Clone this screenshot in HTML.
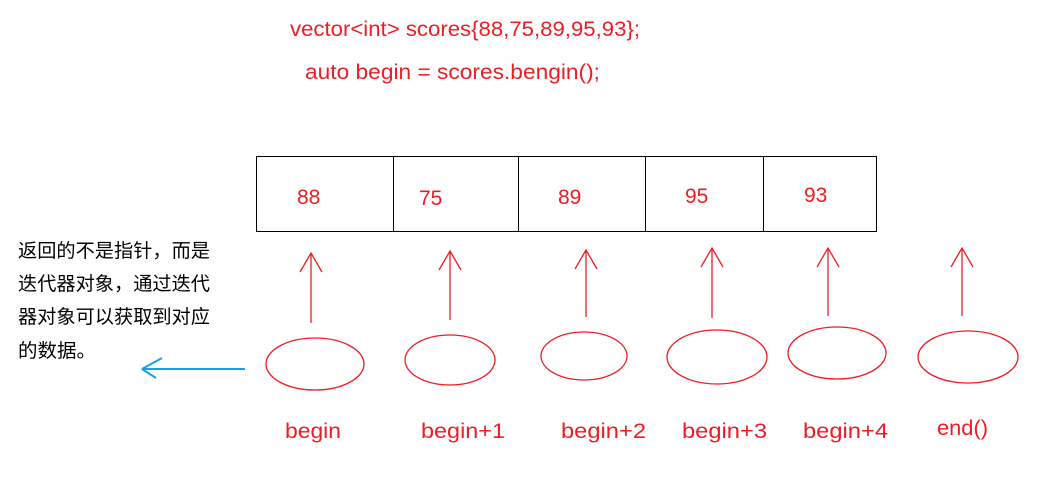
<!DOCTYPE html>
<html><head><meta charset="utf-8"><style>
body{margin:0;background:#fff;width:1047px;height:495px;overflow:hidden}
svg{display:block}
.r{fill:#f01c24;font-family:"Liberation Sans","Noto Sans CJK SC",sans-serif;font-size:21px}
.c{fill:#000;font-family:"Liberation Sans","Noto Sans CJK SC",sans-serif;font-size:19px}
</style></head><body>
<svg width="1047" height="495" xmlns="http://www.w3.org/2000/svg">
<text class="r" x="290" y="36" textLength="350" lengthAdjust="spacingAndGlyphs">vector&lt;int&gt; scores{88,75,89,95,93};</text>
<text class="r" x="305" y="79" textLength="295" lengthAdjust="spacingAndGlyphs">auto begin = scores.bengin();</text>
<rect x="256.5" y="156.5" width="620" height="75" fill="none" stroke="#000" stroke-width="1"/>
<g stroke="#000"><line x1="393.5" y1="156" x2="393.5" y2="232"/><line x1="518.5" y1="156" x2="518.5" y2="232"/><line x1="645.5" y1="156" x2="645.5" y2="232"/><line x1="763.5" y1="156" x2="763.5" y2="232"/></g>
<text class="r" x="297" y="204">88</text><text class="r" x="419" y="205">75</text><text class="r" x="558" y="204">89</text><text class="r" x="685" y="203">95</text><text class="r" x="804" y="202">93</text>
<g stroke="#f01c24" fill="none" stroke-width="1.3">
<path d="M311 323V253M300 272L311 253L322 272"/>
<path d="M450 320V251M439 270L450 251L461 270"/>
<path d="M586 317V250M575 269L586 250L597 269"/>
<path d="M712 318V248M701 267L712 248L723 267"/>
<path d="M828 316V248M817 267L828 248L839 267"/>
<path d="M962 316V248M951 267L962 248L973 267"/>
<ellipse cx="315" cy="364" rx="49" ry="26"/>
<ellipse cx="450" cy="360" rx="45" ry="25"/>
<ellipse cx="584" cy="356" rx="43" ry="24"/>
<ellipse cx="717" cy="357" rx="50" ry="27"/>
<ellipse cx="837" cy="353" rx="49" ry="26"/>
<ellipse cx="968" cy="357" rx="50" ry="26"/>
</g>
<text class="r" x="285" y="438" textLength="56" lengthAdjust="spacingAndGlyphs">begin</text>
<text class="r" x="421" y="438" textLength="84" lengthAdjust="spacingAndGlyphs">begin+1</text>
<text class="r" x="561" y="438" textLength="85" lengthAdjust="spacingAndGlyphs">begin+2</text>
<text class="r" x="682" y="438" textLength="85" lengthAdjust="spacingAndGlyphs">begin+3</text>
<text class="r" x="803" y="438" textLength="85" lengthAdjust="spacingAndGlyphs">begin+4</text>
<text class="r" x="937" y="435" textLength="51" lengthAdjust="spacingAndGlyphs">end()</text>
<g stroke="#1aa0e0" fill="none" stroke-width="2"><path d="M245 369H142M142 369L162 358M142 369L156 378"/></g>
<text class="c" x="18" y="257" textLength="192" lengthAdjust="spacingAndGlyphs">返回的不是指针，而是</text>
<text class="c" x="18" y="290" textLength="192" lengthAdjust="spacingAndGlyphs">迭代器对象，通过迭代</text>
<text class="c" x="18" y="323" textLength="192" lengthAdjust="spacingAndGlyphs">器对象可以获取到对应</text>
<text class="c" x="18" y="357" textLength="78" lengthAdjust="spacingAndGlyphs">的数据。</text>
</svg>
</body></html>
